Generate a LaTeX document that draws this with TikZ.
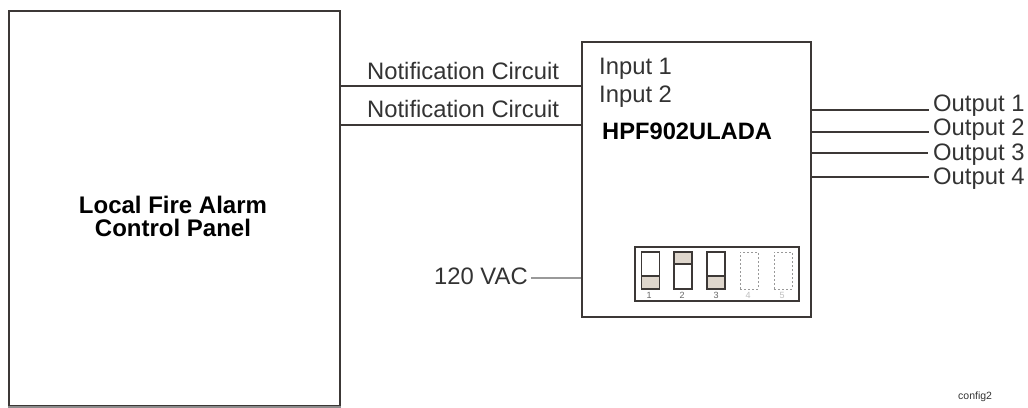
\documentclass[tikz,border=0pt]{standalone}
\usepackage{fontspec}
\setmainfont{Liberation Sans}
\definecolor{linegray}{RGB}{60,56,54}
\definecolor{slidertan}{RGB}{222,214,204}
\begin{document}
\begin{tikzpicture}[
		x=1pt,y=-1pt,
		line join=miter,
		box/.style={draw=linegray,line width=1.5pt,fill=white,inner sep=0pt},
		wire/.style={draw=linegray,line width=1.6pt},
		lbl/.style={text=black!80,font=\fontsize{23.8}{26}\selectfont,inner sep=0pt,anchor=base west},
		dipsw/.style={draw=linegray,line width=1.5pt,minimum width=18pt,minimum height=37pt,inner sep=0pt},
		dipoff/.style={draw=black!40,line width=1pt,dash pattern=on 2pt off 2pt,minimum width=18pt,minimum height=37pt,inner sep=0pt},
		slider/.style={draw=linegray,line width=1.5pt,fill=slidertan,minimum width=18pt,minimum height=13pt,inner sep=0pt},
		diplbl/.style={text=black!60,font=\fontsize{9}{10}\selectfont,inner sep=0pt}
		]
		\useasboundingbox (0,0) rectangle (1028,407);
		% main boxes
		\node[box,minimum width=331pt,minimum height=395pt] (panel) at (174.5,208.5) {};
		\node[box,minimum width=229pt,minimum height=275pt] (module) at (696.5,179.5) {};
		\draw[black!45,line width=1.5pt] (panel.south west) -- (panel.south east);
		% texts
		\node[align=center,inner sep=0pt,font=\bfseries\fontsize{24}{23}\selectfont] (panelname) at (173,216) {Local Fire Alarm\\Control Panel};
		\node[lbl] (circa) at (367,79) {Notification Circuit};
		\node[lbl] (circb) at (367,117) {Notification Circuit};
		\node[lbl] (ina) at (599,74) {Input 1};
		\node[lbl] (inb) at (599,102) {Input 2};
		\node[lbl,font=\bfseries\fontsize{23.7}{26}\selectfont,text=black] (model) at (602,139) {HPF902ULADA};
		\node[lbl] (ac) at (434,284) {120 VAC};
		\node[lbl] (outa) at (933,111) {Output 1};
		\node[lbl] (outb) at (933,135) {Output 2};
		\node[lbl] (outc) at (933,160) {Output 3};
		\node[lbl] (outd) at (933,184) {Output 4};
		\node[text=black!80,font=\fontsize{10.5}{12}\selectfont,inner sep=0pt,anchor=west] (tag) at (958,397) {config2};
		% wire ends
		\coordinate (enda) at (582,86);
		\coordinate (endb) at (582,125);
		\coordinate (endc) at (531,278);
		\coordinate (enou) at (929,110);
		\coordinate (enov) at (929,132);
		\coordinate (enow) at (928,153);
		\coordinate (enox) at (929,177);
		\begin{scope}[wire]
		\draw (panel.east |- enda) -- (module.west |- enda);
		\draw (panel.east |- endb) -- (module.west |- endb);
		\draw (module.east |- enou) -- (enou);
		\draw (module.east |- enov) -- (enov);
		\draw (module.east |- enow) -- (enow);
		\draw (module.east |- enox) -- (enox);
		\end{scope}
		\draw[black!40,line width=1.2pt] (endc) -- (module.west |- endc);
		% switch block
		\node[box,minimum width=164pt,minimum height=54pt] (dip) at (717,274) {};
		\node[dipsw] (swa) at (650.5,270.5) {};
		\node[dipsw] (swb) at (683,270.5) {};
		\node[dipsw] (swc) at (716,270.5) {};
		\node[dipoff] (swd) at (749,270.5) {};
		\node[dipoff] (swe) at (783,270.5) {};
		\node[slider,anchor=south] (slda) at (swa.south) {};
		\node[slider,anchor=north,minimum height=12pt] (sldb) at (swb.north) {};
		\node[slider,anchor=south] (sldc) at (swc.south) {};
		\node[diplbl] (nuka) at (649,295) {1};
		\node[diplbl] (nukb) at (682,295) {2};
		\node[diplbl] (nukc) at (716,295) {3};
		\node[diplbl,text=black!25] (nukd) at (748,295) {4};
		\node[diplbl,text=black!25] (nuke) at (782,295) {5};
		\end{tikzpicture}
\end{document}
